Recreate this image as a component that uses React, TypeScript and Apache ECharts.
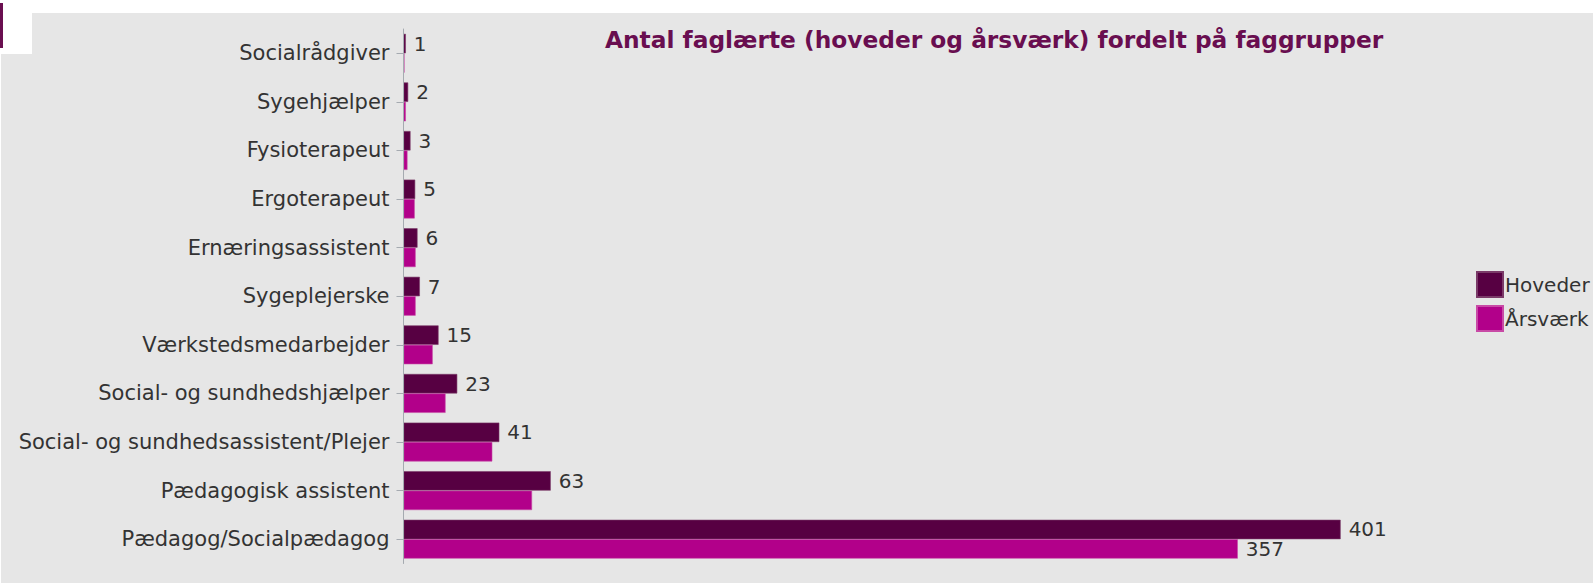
import React, { useEffect, useRef } from "react";
import * as echarts from "echarts";

const categories = [
  "Socialrådgiver",
  "Sygehjælper",
  "Fysioterapeut",
  "Ergoterapeut",
  "Ernæringsassistent",
  "Sygeplejerske",
  "Værkstedsmedarbejder",
  "Social- og sundhedshjælper",
  "Social- og sundhedsassistent/Plejer",
  "Pædagogisk assistent",
  "Pædagog/Socialpædagog",
];
const hoveder = [1, 2, 3, 5, 6, 7, 15, 23, 41, 63, 401];
const aarsvaerk = [0.4, 1, 1.7, 4.8, 5.2, 5.2, 12.5, 18, 38, 55, 357];
const aarsvaerkLabelled = [357];

const titleText = "Antal faglærte (hoveder og årsværk) fordelt på faggrupper";
const seriesNames = ["Hoveder", "Årsværk"];
const colors = ["#570042", "#b2008a"];

export default function App() {
  const ref = useRef<HTMLDivElement>(null);
  useEffect(() => {
    if (!ref.current) return;
    const chart = echarts.init(ref.current, undefined, { renderer: "svg" });
    const font = "'DejaVu Sans', Verdana, sans-serif";
    chart.setOption({
      animation: false,
      backgroundColor: "#ffffff",
      graphic: [
        { type: "rect", z: -10, shape: { x: 32, y: 13, width: 1561, height: 570 }, style: { fill: "#e6e6e6" } },
        { type: "rect", z: -10, shape: { x: 1, y: 54, width: 32, height: 529 }, style: { fill: "#e6e6e6" } },
        { type: "rect", z: -10, shape: { x: 0, y: 3, width: 3, height: 45 }, style: { fill: "#6a0f50" } },
      ],
      title: {
        text: titleText,
        left: 605,
        top: 28,
        padding: 0,
        textStyle: { fontFamily: font, fontSize: 23.3, fontWeight: "bold", color: "#690e50" },
      },
      legend: {
        orient: "vertical",
        left: 1476,
        top: 271,
        padding: 0,
        itemWidth: 26,
        itemHeight: 25,
        itemGap: 7,
        icon: "rect",
        textStyle: { fontFamily: font, fontSize: 20, color: "#333", padding: [0, 0, 0, -3] },
        data: seriesNames,
      },
      grid: { left: 403.5, top: 29, width: 1168.5, height: 534.5, containLabel: false },
      xAxis: {
        type: "value",
        min: 0,
        max: 500,
        show: false,
      },
      yAxis: {
        type: "category",
        inverse: true,
        data: categories,
        z: 3,
        axisLine: { show: true, lineStyle: { color: "#a5aab0", width: 1 } },
        axisTick: { show: true, length: 7, alignWithLabel: true, lineStyle: { color: "#a5aab0" } },
        axisLabel: { margin: 14, fontFamily: font, fontSize: 21, color: "#333" },
        splitLine: { show: false },
      },
      series: [
        {
          name: seriesNames[0],
          type: "bar",
          data: hoveder,
          barGap: "0%",
          barCategoryGap: "20%",
          itemStyle: { color: colors[0], borderColor: "#7a3a68", borderWidth: 0.6 },
          label: { show: true, position: "right", distance: 8, fontFamily: font, fontSize: 20, color: "#333" },
        },
        {
          name: seriesNames[1],
          type: "bar",
          data: aarsvaerk.map((v) => ({
            value: v,
            label: { show: aarsvaerkLabelled.includes(v) },
          })),
          barGap: "0%",
          barCategoryGap: "20%",
          itemStyle: { color: colors[1], borderColor: "#c84aa6", borderWidth: 0.6 },
          label: { show: false, position: "right", distance: 8, fontFamily: font, fontSize: 20, color: "#333" },
        },
      ],
    });
    return () => chart.dispose();
  }, []);
  return (
    <div
      ref={ref}
      style={{ position: "fixed", left: 0, top: 0, width: 1593, height: 583 }}
    />
  );
}
